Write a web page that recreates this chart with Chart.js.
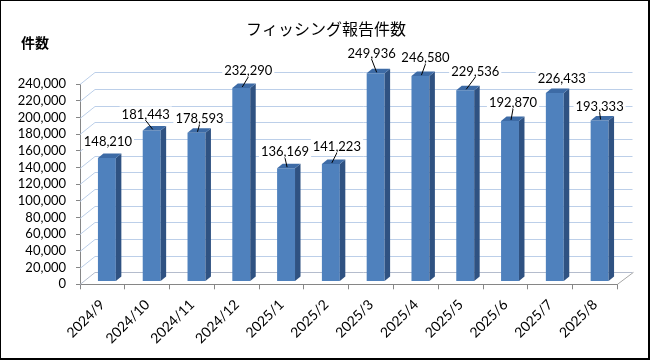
<!DOCTYPE html>
<html>
<head>
<meta charset="utf-8">
<script src="https://cdn.jsdelivr.net/npm/chart.js@4.4.1/dist/chart.umd.min.js"></script>
<style>
  body { margin: 0; background: #fff; }
  canvas { display: block; }
</style>
</head>
<body>
<canvas id="grafic" width="650" height="360"></canvas>
<script>
const luni = ['2024/9', '2024/10', '2024/11', '2024/12', '2025/1', '2025/2',
              '2025/3', '2025/4', '2025/5', '2025/6', '2025/7', '2025/8'];
const rapoarte = [148210, 181443, 178593, 232290, 136169, 141223,
                  249936, 246580, 229536, 192870, 226433, 193333];
const yMax = 240000;
const yPas = 20000;
const titlu = 'フィッシング報告件数';
const titluAxa = '件数';

// pozitia etichetelor fata de varful barei (px) si daca au linie de legatura
const etDx = [1, -6, 3, 7, -1, 6, -4, 5, 10, 3, 7, 0];
const etDy = [-16, -16, -14, -17, -16, -17, -20, -18, -19, -18, -14, -14];
const linie = [0, 1, 1, 1, 1, 1, 1, 1, 1, 1, 0, 1];

// adancimea 3D: peretele din spate si fata barelor
const PERETE = { x: 15, y: -12 };
const BARA = { x: 4.5, y: -2.7 };
const ADANC = { x: 5.5, y: -4.5 };

const fontNr = 'Lato';

const pereti3D = {
    id: 'pereti3D',
    beforeDatasetsDraw(chart) {
        const { ctx, chartArea: a, scales: { y } } = chart;
        ctx.save();
        ctx.lineWidth = 1;
        for (let v = 0; v <= yMax; v += yPas) {
            const py = Math.round(y.getPixelForValue(v)) + 0.5;
            ctx.strokeStyle = v === 0 ? '#b4bccd' : '#bccfe9';
            ctx.beginPath();
            ctx.moveTo(a.left, py);
            ctx.lineTo(a.left + PERETE.x, py + PERETE.y);
            ctx.lineTo(a.right + PERETE.x, py + PERETE.y);
            ctx.stroke();
        }
        ctx.strokeStyle = '#a6a6a6';
        ctx.beginPath();
        ctx.moveTo(a.right, a.bottom);
        ctx.lineTo(a.right + PERETE.x + 1, a.bottom + PERETE.y);
        ctx.stroke();
        ctx.restore();
    },
    beforeDatasetDraw(chart) {
        chart.ctx.save();
        chart.ctx.translate(BARA.x, BARA.y);
    },
    afterDatasetDraw(chart, args) {
        const ctx = chart.ctx;
        args.meta.data.forEach(bar => {
            const { x, y, base, width } = bar.getProps(['x', 'y', 'base', 'width'], true);
            const r = x + width / 2, l = x - width / 2;
            ctx.fillStyle = '#2f5282';
            ctx.beginPath();
            ctx.moveTo(r, y);
            ctx.lineTo(r + ADANC.x, y + ADANC.y);
            ctx.lineTo(r + ADANC.x, base + ADANC.y);
            ctx.lineTo(r, base);
            ctx.closePath();
            ctx.fill();
            ctx.fillStyle = '#3d6ba6';
            ctx.beginPath();
            ctx.moveTo(l, y);
            ctx.lineTo(l + ADANC.x, y + ADANC.y);
            ctx.lineTo(r + ADANC.x, y + ADANC.y);
            ctx.lineTo(r, y);
            ctx.closePath();
            ctx.fill();
        });
        ctx.restore();
    },
    afterDatasetsDraw(chart) {
        const ctx = chart.ctx;
        const bare = chart.getDatasetMeta(0).data;
        ctx.save();
        ctx.font = '13px ' + fontNr;
        ctx.textAlign = 'center';
        ctx.textBaseline = 'middle';
        bare.forEach((bar, i) => {
            const bx = bar.x + BARA.x, by = bar.y + BARA.y;
            const lx = bx + etDx[i], ly = by + etDy[i];
            const txt = rapoarte[i].toLocaleString('en-US');
            const w = ctx.measureText(txt).width;
            ctx.fillStyle = '#fff';
            ctx.fillRect(lx - w / 2 - 2, ly - 8, w + 4, 15);
            ctx.fillStyle = '#000';
            ctx.fillText(txt, lx, ly);
            if (linie[i]) {
                ctx.strokeStyle = '#000';
                ctx.lineWidth = 1;
                ctx.beginPath();
                ctx.moveTo(lx, ly + 6);
                ctx.lineTo(bx + 1, by - 1);
                ctx.stroke();
            }
        });
        ctx.restore();
    },
    afterDraw(chart) {
        const ctx = chart.ctx;
        ctx.save();
        ctx.fillStyle = '#000';
        ctx.textBaseline = 'middle';
        ctx.textAlign = 'center';
        ctx.font = '16px "Noto Sans CJK JP"';
        ctx.fillText(titlu, 326, 29);
        ctx.textAlign = 'left';
        ctx.font = 'bold 14px "Noto Sans CJK JP"';
        ctx.fillText(titluAxa, 21, 43);
        ctx.strokeStyle = '#000';
        ctx.lineWidth = 2;
        ctx.strokeRect(0, 0, 649, 359);
        ctx.restore();
    }
};

new Chart(document.getElementById('grafic'), {
    type: 'bar',
    data: {
        labels: luni,
        datasets: [{
            data: rapoarte,
            backgroundColor: '#4f81bd',
            borderWidth: 0,
            categoryPercentage: 1,
            barPercentage: 0.4,
            clip: false
        }]
    },
    options: {
        responsive: false,
        animation: false,
        devicePixelRatio: 1,
        layout: { padding: { left: 0, right: 32.5, top: 84.3, bottom: 0 } },
        plugins: {
            legend: { display: false },
            tooltip: { enabled: false },
            title: { display: false }
        },
        scales: {
            x: {
                offset: true,
                afterFit: s => { s.height = 75.7; },
                grid: { offset: true, drawOnChartArea: false, tickLength: 5, color: '#868686' },
                border: { color: '#868686' },
                ticks: {
                    maxRotation: 45, minRotation: 45,
                    autoSkip: false,
                    padding: 7,
                    color: '#000',
                    font: { family: fontNr, size: 14 }
                }
            },
            y: {
                min: 0,
                max: yMax,
                afterFit: s => { s.width = 80; },
                grid: { drawOnChartArea: false, tickLength: 4, color: '#868686' },
                border: { color: '#868686' },
                ticks: {
                    stepSize: yPas,
                    autoSkip: false,
                    padding: 10,
                    color: '#000',
                    font: { family: fontNr, size: 13 },
                    callback: v => v.toLocaleString('en-US')
                }
            }
        }
    },
    plugins: [pereti3D]
});
</script>
</body>
</html>
